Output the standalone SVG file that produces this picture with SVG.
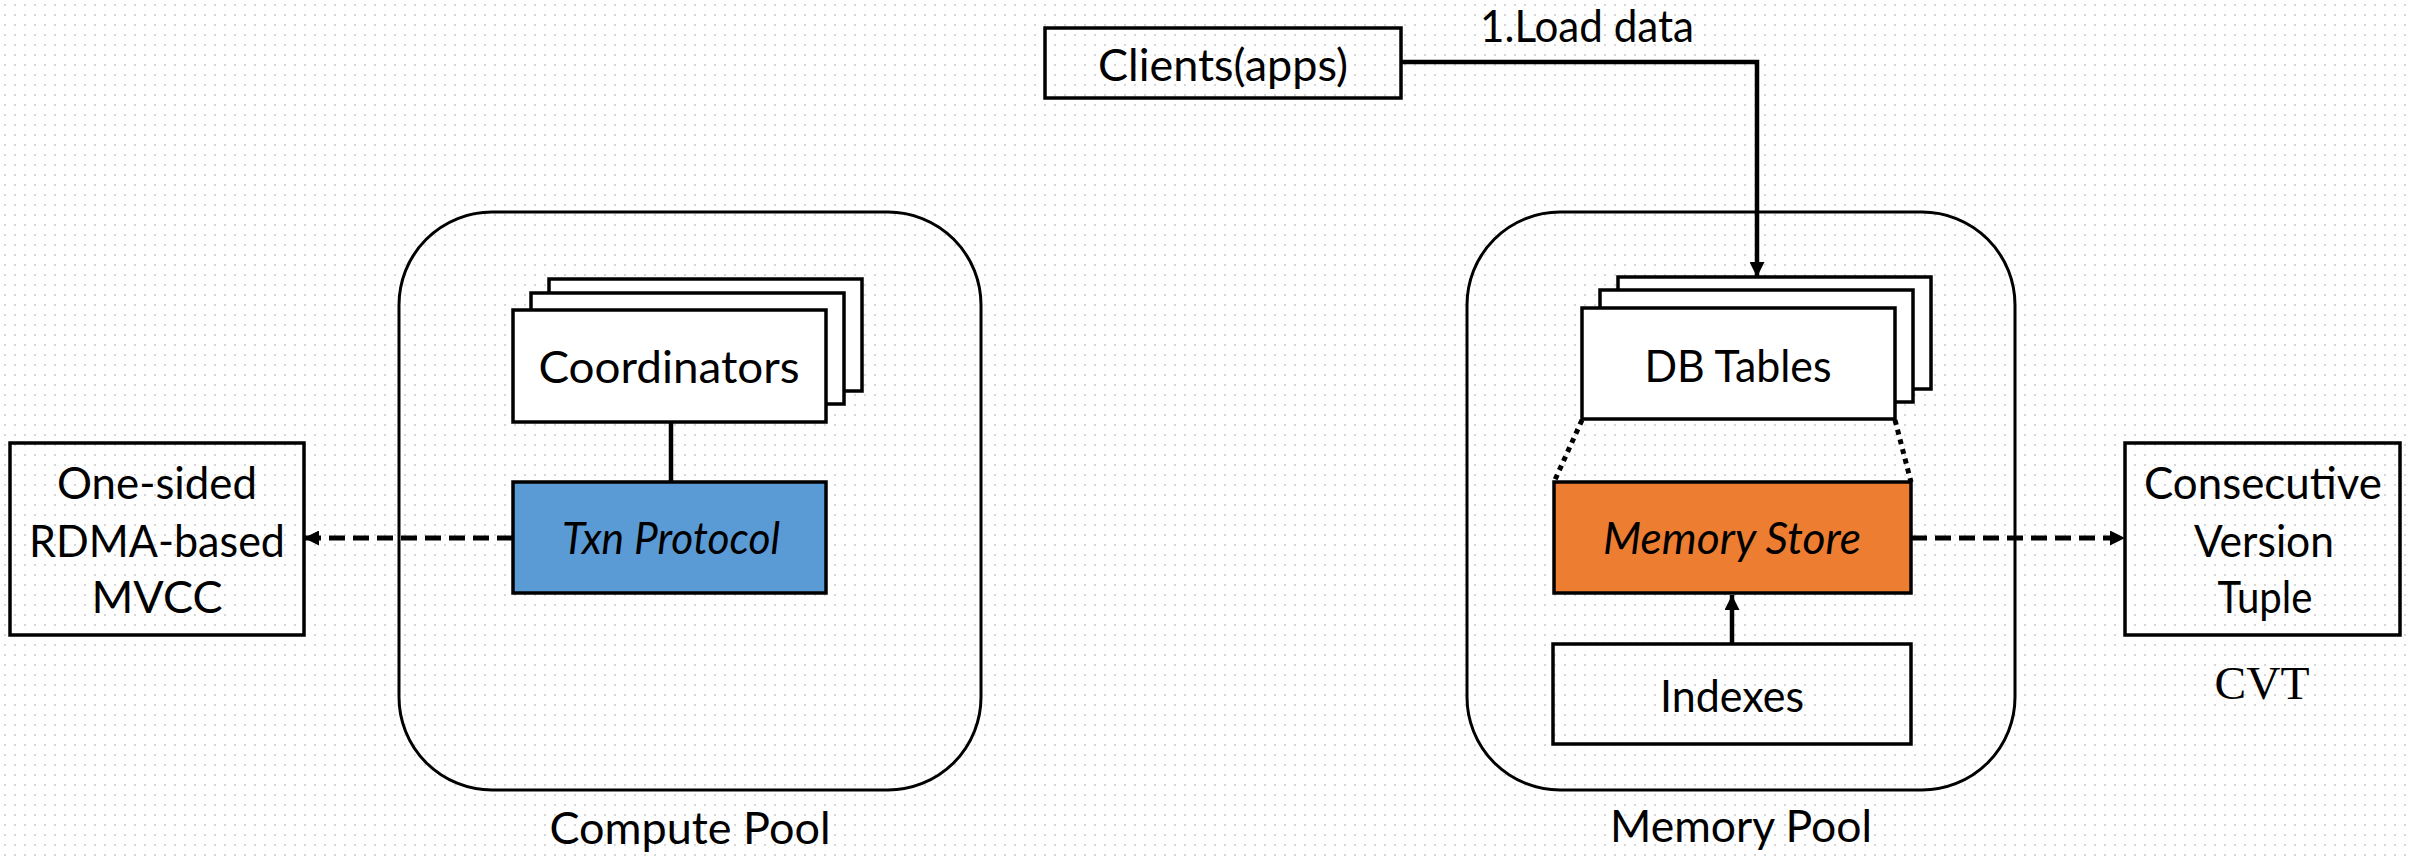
<svg xmlns="http://www.w3.org/2000/svg" width="2412" height="856" viewBox="0 0 2412 856">
  <defs>
    <pattern id="dots" width="10" height="10" patternUnits="userSpaceOnUse">
      <circle cx="5" cy="5" r="1.1" fill="#cdcdcd"/>
    </pattern>
    <marker id="head" viewBox="0 0 10 10" refX="10" refY="5" markerWidth="15" markerHeight="15" markerUnits="userSpaceOnUse" orient="auto">
      <path d="M0,0 L10,5 L0,10 Z" fill="#000"/>
    </marker>
    <style>
      .box { stroke: #000; stroke-width: 3.5; }
      .white { fill: #fff; }
      .clear { fill: none; }
      .pool { fill: none; stroke: #000; stroke-width: 3; }
      .lbl { font-family: Lato, "Liberation Sans", sans-serif; font-size: 45px; fill: #000; text-anchor: middle; }
      .it { font-style: italic; font-size: 44px; }
      .serif { font-family: "Liberation Serif", "Times New Roman", serif; font-size: 47px; }
      .solid { fill: none; stroke: #000; stroke-width: 4.5; }
      .dash { fill: none; stroke: #000; stroke-width: 5; stroke-dasharray: 16 8; }
      .dot { fill: none; stroke: #000; stroke-width: 5; stroke-dasharray: 5 5; }
    </style>
  </defs>

  <!-- canvas with dotted grid -->
  <rect width="2412" height="856" fill="#fff"/>
  <rect width="2412" height="856" fill="url(#dots)"/>

  <!-- pools -->
  <g id="compute-pool">
    <rect class="pool" x="399" y="212" width="582" height="578" rx="93" ry="93"/>
    <text class="lbl" x="690" y="844" textLength="281" lengthAdjust="spacingAndGlyphs">Compute Pool</text>
  </g>
  <g id="memory-pool">
    <rect class="pool" x="1467" y="212" width="548" height="578" rx="93" ry="93"/>
    <text class="lbl" x="1741" y="842" textLength="262" lengthAdjust="spacingAndGlyphs">Memory Pool</text>
  </g>

  <!-- connectors -->
  <g id="connectors">
    <polyline class="solid" points="1401,62 1757,62 1757,277" marker-end="url(#head)"/>
    <line class="solid" x1="671" y1="422" x2="671" y2="482"/>
    <line class="solid" x1="1732" y1="644" x2="1732" y2="595" marker-end="url(#head)"/>
    <line class="dash" x1="513" y1="538" x2="304" y2="538" marker-end="url(#head)"/>
    <line class="dash" x1="1911" y1="538" x2="2125" y2="538" marker-end="url(#head)"/>
    <line class="dot" x1="1582" y1="420" x2="1554" y2="482"/>
    <line class="dot" x1="1895" y1="420" x2="1911" y2="482"/>
  </g>

  <g id="clients">
    <rect class="box clear" x="1045" y="28" width="356" height="70"/>
    <text class="lbl" x="1223" y="81" font-size="46" textLength="250" lengthAdjust="spacingAndGlyphs">Clients(apps)</text>
  </g>
  <g id="load-label">
    <text class="lbl" x="1587" y="42" font-size="38" textLength="214" lengthAdjust="spacingAndGlyphs">1.Load data</text>
  </g>

  <g id="coordinators">
    <rect class="box white" x="549" y="279" width="313" height="112"/>
    <rect class="box white" x="531" y="293" width="313" height="111"/>
    <rect class="box white" x="513" y="310" width="313" height="112"/>
    <text class="lbl" x="669" y="383" font-size="46" textLength="261" lengthAdjust="spacingAndGlyphs">Coordinators</text>
  </g>

  <g id="txn-protocol">
    <rect class="box" fill="#5B9BD5" x="513" y="482" width="313" height="111"/>
    <text class="lbl it" x="671" y="554" textLength="218" lengthAdjust="spacingAndGlyphs">Txn Protocol</text>
  </g>

  <g id="mvcc">
    <rect class="box clear" x="10" y="443" width="294" height="192"/>
    <text class="lbl" x="157" y="499" textLength="200" lengthAdjust="spacingAndGlyphs">One-sided</text>
    <text class="lbl" x="157" y="557" textLength="256" lengthAdjust="spacingAndGlyphs">RDMA-based</text>
    <text class="lbl" x="157" y="613" textLength="131" lengthAdjust="spacingAndGlyphs">MVCC</text>
  </g>

  <g id="db-tables">
    <rect class="box white" x="1618" y="277" width="313" height="112"/>
    <rect class="box white" x="1600" y="290" width="313" height="112"/>
    <rect class="box white" x="1582" y="308" width="313" height="111"/>
    <text class="lbl" x="1738" y="382" textLength="187" lengthAdjust="spacingAndGlyphs">DB Tables</text>
  </g>

  <g id="memory-store">
    <rect class="box" fill="#ED7D31" x="1554" y="482" width="357" height="111"/>
    <text class="lbl it" x="1732" y="554" textLength="258" lengthAdjust="spacingAndGlyphs">Memory Store</text>
  </g>

  <g id="indexes">
    <rect class="box clear" x="1553" y="644" width="358" height="100"/>
    <text class="lbl" x="1732" y="712" textLength="144" lengthAdjust="spacingAndGlyphs">Indexes</text>
  </g>

  <g id="cvt">
    <rect class="box clear" x="2125" y="443" width="275" height="192"/>
    <text class="lbl" x="2263" y="499" textLength="238" lengthAdjust="spacingAndGlyphs">Consecutive</text>
    <text class="lbl" x="2264" y="557" textLength="140" lengthAdjust="spacingAndGlyphs">Version</text>
    <text class="lbl" x="2265" y="613" textLength="95" lengthAdjust="spacingAndGlyphs">Tuple</text>
    <text class="lbl serif" x="2262" y="699" textLength="95" lengthAdjust="spacingAndGlyphs">CVT</text>
  </g>
</svg>
